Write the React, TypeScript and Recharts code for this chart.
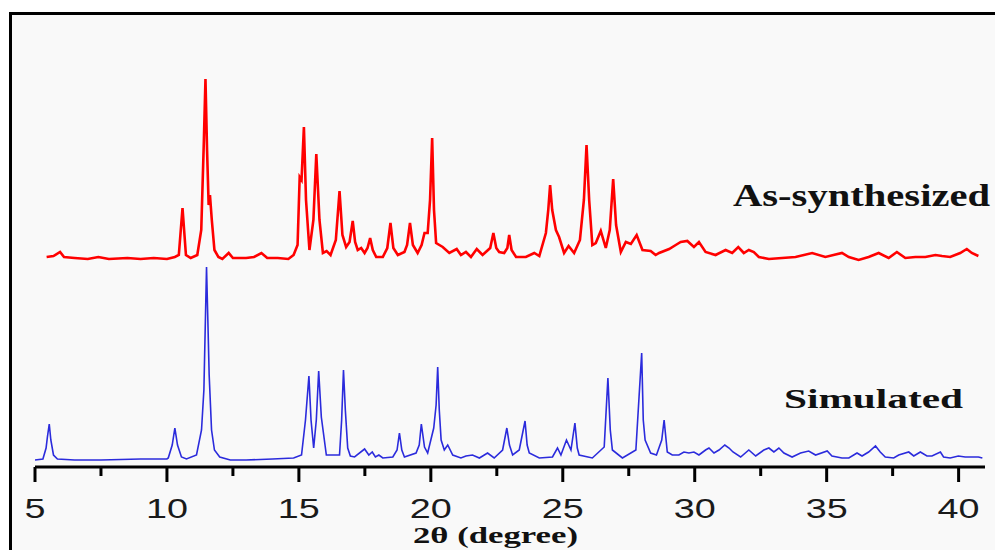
import React from 'react';
import { LineChart, Line, XAxis, YAxis } from 'recharts';

// 2θ positions (degree) and intensities (arbitrary units)
const asSynthTheta = [5.44,5.7,5.95,6.1,6.5,7.0,7.4,7.8,8.5,9.0,9.5,10.0,10.3,10.45,10.59,10.72,10.9,11.15,11.3,11.4,11.46,11.52,11.58,11.63,11.7,11.8,11.95,12.1,12.34,12.5,13.0,13.3,13.58,13.8,14.2,14.6,14.8,14.95,15.03,15.1,15.19,15.27,15.4,15.55,15.66,15.78,15.91,16.05,16.2,16.4,16.54,16.65,16.79,16.92,17.04,17.13,17.23,17.36,17.49,17.6,17.7,17.8,17.93,18.18,18.35,18.47,18.58,18.75,19.0,19.1,19.21,19.32,19.5,19.65,19.76,19.88,19.97,20.05,20.12,20.2,20.45,20.7,20.98,21.14,21.33,21.52,21.74,21.96,22.25,22.37,22.48,22.59,22.78,22.9,22.97,23.06,23.23,23.6,23.92,24.11,24.36,24.45,24.52,24.6,24.74,24.86,25.05,25.22,25.43,25.65,25.8,25.9,26.0,26.12,26.25,26.44,26.63,26.78,26.91,27.02,27.2,27.39,27.58,27.8,28.02,28.33,28.52,28.65,29.03,29.28,29.47,29.72,29.97,30.16,30.41,30.79,31.17,31.42,31.65,31.86,32.05,32.24,32.43,32.81,33.31,33.82,34.45,34.95,35.58,35.84,36.21,36.59,36.97,37.35,37.66,37.98,38.36,38.74,39.12,39.37,39.68,40.06,40.31,40.5,40.75];
const asSynthIntensity = [3,4,8,3,2,1,3,1,2,1,2,1,3,5,52,5,2,5,30,120,181,110,55,65,40,10,3,1,7,2,2,3,7,2,2,1,5,15,83,80,133,60,10,40,106,40,7,9,5,20,69,25,13,18,39,18,10,12,7,12,22,10,3,3,12,37,12,5,8,15,37,15,7,15,27,27,60,122,50,17,13,7,11,5,8,3,11,5,12,27,12,8,7,12,25,10,3,3,7,4,27,50,75,50,30,23,7,14,7,20,60,115,60,15,17,29,12,30,81,35,8,18,16,25,10,9,5,7,11,15,18,19,13,18,8,5,10,7,13,7,10,8,3,1,2,3,7,3,7,3,0,3,7,2,8,2,3,3,5,4,3,7,11,7,4];
const AS_SYNTH_OFFSET = 200;

const simTheta = [5.0,5.3,5.42,5.47,5.54,5.6,5.7,5.85,6.5,7.5,9.0,10.0,10.05,10.2,10.3,10.4,10.55,10.74,11.12,11.31,11.4,11.5,11.55,11.6,11.69,11.8,12.0,12.4,13.0,14.0,14.8,15.1,15.25,15.38,15.46,15.56,15.66,15.75,15.85,16.04,16.54,16.62,16.69,16.76,16.85,16.95,17.11,17.49,17.65,17.78,17.9,18.03,18.18,18.56,18.72,18.81,18.9,19.0,19.44,19.56,19.64,19.76,19.88,20.11,20.2,20.26,20.32,20.39,20.51,20.64,20.83,21.14,21.33,21.58,21.84,22.15,22.4,22.72,22.88,22.98,23.1,23.35,23.57,23.65,23.73,24.11,24.61,24.8,24.93,25.14,25.31,25.46,25.55,25.62,26.12,26.57,26.71,26.8,26.88,27.26,27.77,27.89,27.99,28.05,28.12,28.33,28.55,28.75,28.84,28.96,29.15,29.4,29.59,29.78,29.97,30.16,30.41,30.54,30.73,30.92,31.14,31.3,31.45,31.74,32.05,32.31,32.62,32.81,33.0,33.19,33.38,33.69,34.01,34.32,34.58,35.02,35.2,35.58,35.84,36.15,36.34,36.59,36.85,37.03,37.22,37.54,37.73,38.11,38.3,38.55,38.8,38.99,39.31,39.43,39.68,39.99,40.25,40.5,40.75,40.9];
const simIntensity = [0,1,12,23,36,20,5,1,0,0,1,1,2,15,32,15,3,1,5,30,70,193,140,85,30,10,3,0,0,1,2,5,40,84,40,12,40,89,43,5,5,40,90,50,12,4,3,11,5,8,3,5,2,3,10,27,10,3,7,15,36,13,7,32,55,93,50,20,10,15,5,2,4,5,2,7,2,10,32,15,5,10,39,15,7,2,3,12,5,20,10,37,12,5,2,13,82,30,10,2,10,63,107,40,20,7,5,20,40,8,5,5,8,7,8,5,10,12,7,10,15,12,8,3,10,4,10,12,8,12,7,3,7,9,5,9,4,2,2,7,4,8,14,8,3,2,5,8,4,8,4,4,8,3,2,4,3,3,3,2];

const xTicks = [5,7.5,10,12.5,15,17.5,20,22.5,25,27.5,30,32.5,35,37.5,40];
const majorTickLabels = ['5','10','15','20','25','30','35','40'];

const seriesLabels = { asSynth: 'As-synthesized', sim: 'Simulated' };
const xAxisTitle = '2θ (degree)';

const asSynthData = asSynthTheta.map((x, i) => ({ x, y: asSynthIntensity[i] + AS_SYNTH_OFFSET }));
const simData = simTheta.map((x, i) => ({ x, y: simIntensity[i] }));

const AxisTick = (props: any) => {
  const { x, y, payload } = props;
  const label = String(payload.value);
  const major = majorTickLabels.includes(label);
  return (
    <g>
      <line x1={x} x2={x} y1={y} y2={y + (major ? 15 : 9)} stroke="#000" strokeWidth={3} />
      {major && (
        <text
          x={x}
          y={y + 51}
          textAnchor="middle"
          fontFamily="'Liberation Sans', Arial, sans-serif"
          fontSize={28}
          fill="#1a1a1a"
          textLength={label.length * 21}
          lengthAdjust="spacingAndGlyphs"
        >
          {label}
        </text>
      )}
    </g>
  );
};

export default function App() {
  return (
    <div style={{ position: 'absolute', left: 0, top: 0, width: 995, height: 550, background: '#fff', overflow: 'hidden' }}>
      <div
        style={{
          position: 'absolute',
          left: 9,
          top: 12,
          right: 0,
          bottom: 0,
          borderLeft: '3px solid #000',
          borderTop: '3px solid #000',
          background: '#f9f9f9',
        }}
      />
      <div style={{ position: 'absolute', left: 0, top: 0 }}>
        <LineChart width={995} height={550} margin={{ top: 15, right: 10, bottom: 0, left: 35 }}>
          <XAxis
            dataKey="x"
            type="number"
            domain={[5, 41]}
            allowDataOverflow
            ticks={xTicks}
            interval={0}
            height={83}
            tickSize={0}
            tickMargin={0}
            tickLine={false}
            axisLine={{ stroke: '#000', strokeWidth: 3 }}
            tick={<AxisTick />}
          />
          <YAxis type="number" domain={[-7, 445]} hide allowDataOverflow />
          <Line
            data={simData}
            dataKey="y"
            type="linear"
            stroke="#2b2bdc"
            strokeWidth={1.6}
            dot={false}
            activeDot={false}
            isAnimationActive={false}
          />
          <Line
            data={asSynthData}
            dataKey="y"
            type="linear"
            stroke="#ff0000"
            strokeWidth={2.6}
            dot={false}
            activeDot={false}
            isAnimationActive={false}
          />
        </LineChart>
      </div>
      <svg width={995} height={550} style={{ position: 'absolute', left: 0, top: 0, pointerEvents: 'none' }}>
        <text x={733} y={206} fontFamily="'Liberation Serif', 'Times New Roman', serif" fontWeight="bold" fontSize={32} fill="#111" textLength={257} lengthAdjust="spacingAndGlyphs">
          {seriesLabels.asSynth}
        </text>
        <text x={784} y={408} fontFamily="'Liberation Serif', 'Times New Roman', serif" fontWeight="bold" fontSize={27} fill="#111" textLength={179} lengthAdjust="spacingAndGlyphs">
          {seriesLabels.sim}
        </text>
        <text x={413} y={543} fontFamily="'Liberation Serif', 'Times New Roman', serif" fontWeight="bold" fontSize={23} fill="#111" textLength={165} lengthAdjust="spacingAndGlyphs">
          {xAxisTitle}
        </text>
      </svg>
    </div>
  );
}
